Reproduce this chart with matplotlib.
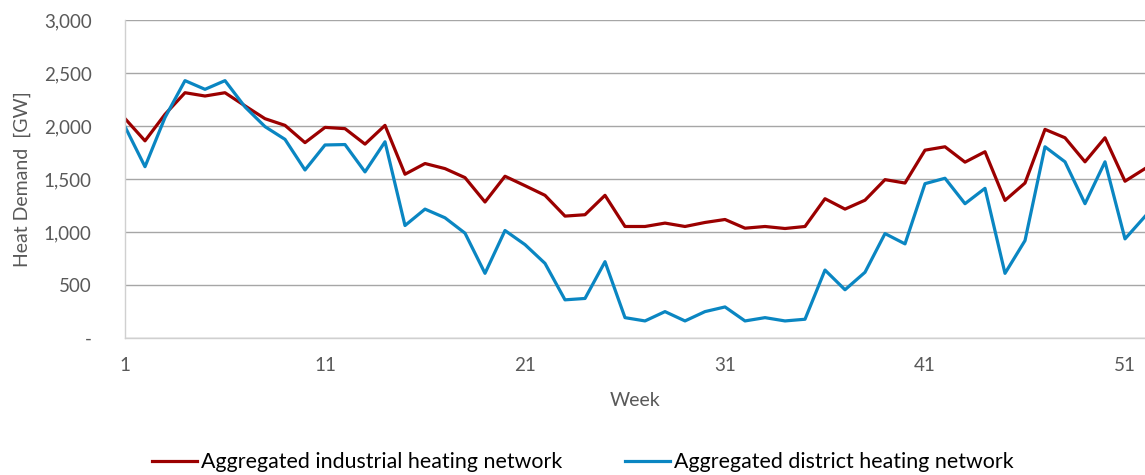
import matplotlib.pyplot as plt
from matplotlib.ticker import FuncFormatter

# Weekly heat demand (GW)
weeks = list(range(1, 53))

industrial = [2070, 1860, 2110, 2314, 2283, 2314, 2190, 2069, 2006, 1843,
              1987, 1975, 1829, 2006, 1545, 1646, 1598, 1513, 1283, 1526,
              1437, 1346, 1150, 1163, 1346, 1052, 1052, 1084, 1052, 1090,
              1118, 1036, 1052, 1033, 1052, 1314, 1216, 1300, 1494, 1462,
              1772, 1804, 1659, 1757, 1298, 1462, 1968, 1889, 1662, 1889,
              1479, 1598]

district = [1994, 1616, 2080, 2428, 2346, 2428, 2180, 1994, 1874, 1585,
            1821, 1825, 1567, 1851, 1061, 1216, 1134, 989, 610, 1014,
            881, 704, 360, 373, 720, 192, 161, 249, 161, 249,
            293, 161, 192, 161, 177, 641, 455, 620, 985, 888,
            1456, 1507, 1267, 1412, 610, 919, 1804, 1662, 1267, 1662,
            935, 1147]

x_ticks = [1, 11, 21, 31, 41, 51]
y_ticks = [0, 500, 1000, 1500, 2000, 2500, 3000]

plt.rcParams['font.family'] = ['Lato', 'DejaVu Sans']
text_color = '#595959'

fig = plt.figure(figsize=(11.45, 4.75), dpi=100)
ax = fig.add_axes([125 / 1145, 137 / 475, 1020 / 1145, 318 / 475])

ax.plot(weeks, industrial, color='#9B0000', lw=2.3, label='Aggregated industrial heating network')
ax.plot(weeks, district, color='#0A86C2', lw=2.3, label='Aggregated district heating network')

ax.set_xlim(1, 52)
ax.set_ylim(0, 3000)
ax.set_xticks(x_ticks)
ax.set_yticks(y_ticks)
ax.yaxis.set_major_formatter(FuncFormatter(lambda v, p: '-' if v == 0 else f'{int(v):,}'))

ax.grid(True, axis='y', color='#A6A6A6', lw=1.0)
ax.set_axisbelow(True)
for side in ['top', 'right']:
    ax.spines[side].set_visible(False)
for side in ['left', 'bottom']:
    ax.spines[side].set_color('#D0D0D0')
    ax.spines[side].set_linewidth(1.0)

ax.tick_params(axis='both', length=0, labelsize=13.5, colors=text_color)
ax.tick_params(axis='y', pad=24)
ax.tick_params(axis='x', pad=14)

ax.set_xlabel('Week', fontsize=14, color=text_color, labelpad=13)
ax.set_ylabel('Heat Demand  [GW]', fontsize=14, color=text_color, labelpad=9)

fig.legend(loc='center', bbox_to_anchor=(0.509, 0.027), ncol=2, frameon=False,
           fontsize=15.4, handlelength=2.1, handletextpad=0.2, columnspacing=2.9)

plt.savefig('out.png', dpi=100)
